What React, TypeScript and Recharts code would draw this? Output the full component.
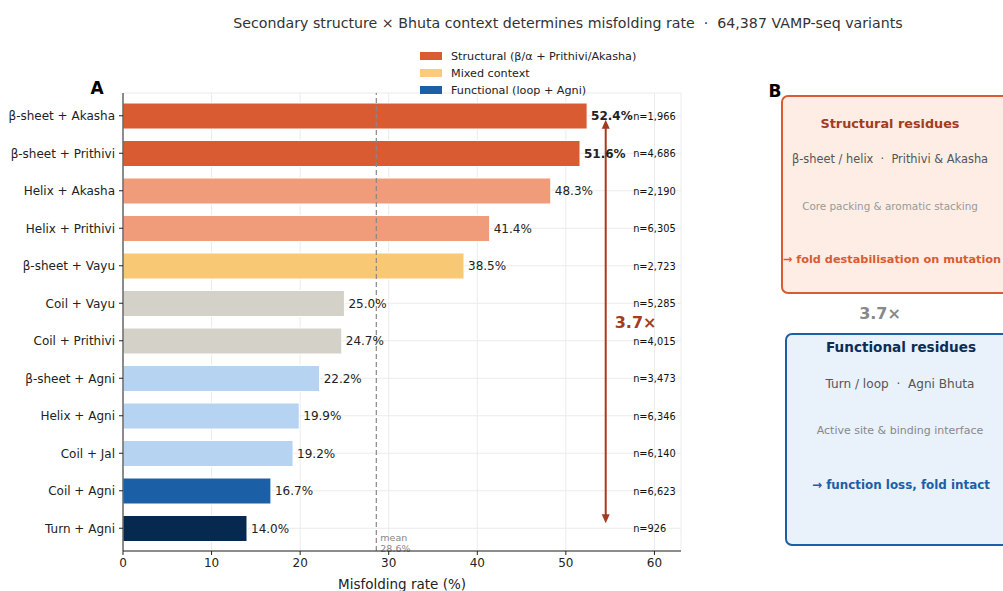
import React from "react";
import {
  Bar,
  BarChart,
  CartesianGrid,
  Cell,
  LabelList,
  Legend,
  ReferenceLine,
  XAxis,
  YAxis,
} from "recharts";

const W = 1003;
const H = 591;
const FONT = "'DejaVu Sans', Verdana, sans-serif";

const contexts = [
  "β-sheet + Akasha",
  "β-sheet + Prithivi",
  "Helix + Akasha",
  "Helix + Prithivi",
  "β-sheet + Vayu",
  "Coil + Vayu",
  "Coil + Prithivi",
  "β-sheet + Agni",
  "Helix + Agni",
  "Coil + Jal",
  "Coil + Agni",
  "Turn + Agni",
];
const misfoldRate = [52.4, 51.6, 48.3, 41.4, 38.5, 25.0, 24.7, 22.2, 19.9, 19.2, 16.7, 14.0];
const variantCount = [1966, 4686, 2190, 6305, 2723, 5285, 4015, 3473, 6346, 6140, 6623, 926];
const barColors = [
  "#d95b32", "#d95b32", "#f09b7a", "#f09b7a", "#f9c874", "#d4d1c9",
  "#d4d1c9", "#b6d4f2", "#b6d4f2", "#b6d4f2", "#1b5fa6", "#08294f",
];
const xTicks = [0, 10, 20, 30, 40, 50, 60];
const meanRate = 28.6;
const foldRatio = "3.7×";
const arrowX = 54.5;
const countX = 57.6;

const legendLabels = ["Structural (β/α + Prithivi/Akasha)", "Mixed context", "Functional (loop + Agni)"];
const legendColors = ["#d95b32", "#fdc97a", "#1b5fa6"];

const data = contexts.map((label, i) => ({
  label,
  rate: misfoldRate[i],
  n: variantCount[i],
}));

const RUST = "#a43b1e";
const PRE: React.CSSProperties = { whiteSpace: "pre" };

function ValueLabel(props: any) {
  const { x, y, width, height, value, index } = props;
  return (
    <text
      x={x + width + 4}
      y={y + height / 2}
      dominantBaseline="central"
      fontSize={12}
      fontWeight={index < 2 ? "bold" : "normal"}
      fill="#222"
      fontFamily={FONT}
    >
      {`${Number(value).toFixed(1)}%`}
    </text>
  );
}

function CountLabel(props: any) {
  const { x, y, width, height, value, index } = props;
  // px per unit from the bar's own scaled length
  const perUnit = width / misfoldRate[index];
  return (
    <text
      x={x + countX * perUnit}
      y={y + height / 2}
      dominantBaseline="central"
      fontSize={9.8}
      fill="#111"
      fontFamily={FONT}
    >
      {`n=${Number(value).toLocaleString("en-US")}`}
    </text>
  );
}

function MeanLabel(props: any) {
  const { viewBox } = props;
  const { x, y, height } = viewBox;
  return (
    <g fontFamily={FONT} fontSize={9.5} fill="#888">
      <text x={x + 4} y={y + height - 10}>mean</text>
      <text x={x + 4} y={y + height + 1}>{`${meanRate}%`}</text>
    </g>
  );
}

function RatioArrow(props: any) {
  const { x1, y1, x2, y2 } = props;
  const top = y1 + 4;
  const bottom = y2 - 5;
  const mid = (y1 + y2) / 2;
  return (
    <g>
      <line x1={x1} y1={top + 6} x2={x2} y2={bottom - 6} stroke={RUST} strokeWidth={2} />
      <polygon points={`${x1},${top} ${x1 - 4},${top + 9} ${x1 + 4},${top + 9}`} fill={RUST} />
      <polygon points={`${x2},${bottom} ${x2 - 4},${bottom - 9} ${x2 + 4},${bottom - 9}`} fill={RUST} />
      <text
        x={x1 + 9}
        y={mid}
        dominantBaseline="central"
        fontSize={16}
        fontWeight="bold"
        fill={RUST}
        fontFamily={FONT}
      >
        {foldRatio}
      </text>
    </g>
  );
}

function LegendBox() {
  return (
    <svg width={240} height={52} style={{ overflow: "visible" }}>
      {legendLabels.map((label, i) => (
        <g key={label} transform={`translate(0, ${i * 17})`}>
          <rect x={0} y={2} width={22} height={8} fill={legendColors[i]} />
          <text x={31} y={6} dominantBaseline="central" fontSize={11.2} fill="#222" fontFamily={FONT}>
            {label}
          </text>
        </g>
      ))}
    </svg>
  );
}

function PanelText(props: any) {
  const { children, ...rest } = props;
  return (
    <text textAnchor="middle" dominantBaseline="central" style={PRE} xmlSpace="preserve" {...rest}>
      {children}
    </text>
  );
}

function SummaryPanel() {
  return (
    <svg
      width={W}
      height={H}
      style={{ position: "absolute", left: 0, top: 0, pointerEvents: "none" }}
      fontFamily={FONT}
    >
      <PanelText x={568} y={23} fontSize={14.2} fill="#333">
        {"Secondary structure × Bhuta context determines misfolding rate  ·  64,387 VAMP-seq variants"}
      </PanelText>
      <PanelText x={97} y={88} fontSize={17} fontWeight="bold" fill="#000">A</PanelText>
      <PanelText x={775} y={91} fontSize={17} fontWeight="bold" fill="#000">B</PanelText>

      <rect x={782} y={96} width={250} height={197} rx={6} fill="#fdede5" stroke="#d95b32" strokeWidth={2} />
      <PanelText x={890} y={123} fontSize={12.8} fontWeight="bold" fill={RUST}>Structural residues</PanelText>
      <PanelText x={890} y={159} fontSize={11.4} fill="#555">{"β-sheet / helix  ·  Prithivi & Akasha"}</PanelText>
      <PanelText x={890} y={206} fontSize={10.4} fill="#999">Core packing &amp; aromatic stacking</PanelText>
      <PanelText x={892} y={259} fontSize={11.3} fontWeight="bold" fill="#d95b32">→ fold destabilisation on mutation</PanelText>

      <PanelText x={880} y={313} fontSize={16} fontWeight="bold" fill="#888">{foldRatio}</PanelText>

      <rect x={786} y={334} width={250} height={211} rx={6} fill="#e9f1fb" stroke="#1b5fa6" strokeWidth={2} />
      <PanelText x={901} y={347} fontSize={13.6} fontWeight="bold" fill="#0b2e55">Functional residues</PanelText>
      <PanelText x={900} y={384} fontSize={12.1} fill="#555">{"Turn / loop  ·  Agni Bhuta"}</PanelText>
      <PanelText x={900} y={430} fontSize={11} fill="#888">Active site &amp; binding interface</PanelText>
      <PanelText x={901} y={485} fontSize={11.9} fontWeight="bold" fill="#1b5fa6">→ function loss, fold intact</PanelText>
    </svg>
  );
}

export default function App() {
  return (
    <div
      style={{
        position: "absolute",
        left: 0,
        top: 0,
        width: W,
        height: H,
        overflow: "hidden",
        background: "#fff",
        fontFamily: FONT,
      }}
    >
      <BarChart
        width={W}
        height={H}
        data={data}
        layout="vertical"
        margin={{ top: 93, right: 322, bottom: 10, left: 8 }}
      >
        <CartesianGrid stroke="#ebebeb" strokeWidth={1} />
        <XAxis
          type="number"
          domain={[0, 63]}
          ticks={xTicks}
          height={30}
          tickSize={4}
          tickMargin={3}
          axisLine={{ stroke: "#222" }}
          tickLine={{ stroke: "#222" }}
          tick={{ fontSize: 12, fill: "#222", fontFamily: FONT }}
          label={{
            value: "Misfolding rate (%)",
            position: "insideBottom",
            offset: -8,
            fontSize: 13.5,
            fill: "#222",
            fontFamily: FONT,
          }}
        />
        <YAxis
          type="category"
          dataKey="label"
          width={115}
          padding={{ top: 4, bottom: 4 }}
          tickSize={4}
          tickMargin={4}
          interval={0}
          axisLine={{ stroke: "#222" }}
          tickLine={{ stroke: "#222" }}
          tick={{ fontSize: 12, fill: "#222", fontFamily: FONT }}
        />
        <Legend
          layout="horizontal"
          align="center"
          verticalAlign="middle"
          wrapperStyle={{ position: "absolute", left: 420, top: 50, width: 240, height: 52 }}
          content={() => <LegendBox />}
        />
        <ReferenceLine
          x={meanRate}
          stroke="#888"
          strokeWidth={1.2}
          strokeDasharray="5 3"
          label={<MeanLabel />}
        />
        <Bar dataKey="rate" barSize={26} stroke="#fff" strokeWidth={1} isAnimationActive={false}>
          {data.map((d, i) => (
            <Cell key={d.label} fill={barColors[i]} />
          ))}
          <LabelList dataKey="rate" content={<ValueLabel />} />
          <LabelList dataKey="n" content={<CountLabel />} />
        </Bar>
        <ReferenceLine
          segment={[
            { x: arrowX, y: contexts[0] },
            { x: arrowX, y: contexts[contexts.length - 1] },
          ]}
          shape={<RatioArrow />}
        />
      </BarChart>
      <SummaryPanel />
    </div>
  );
}
